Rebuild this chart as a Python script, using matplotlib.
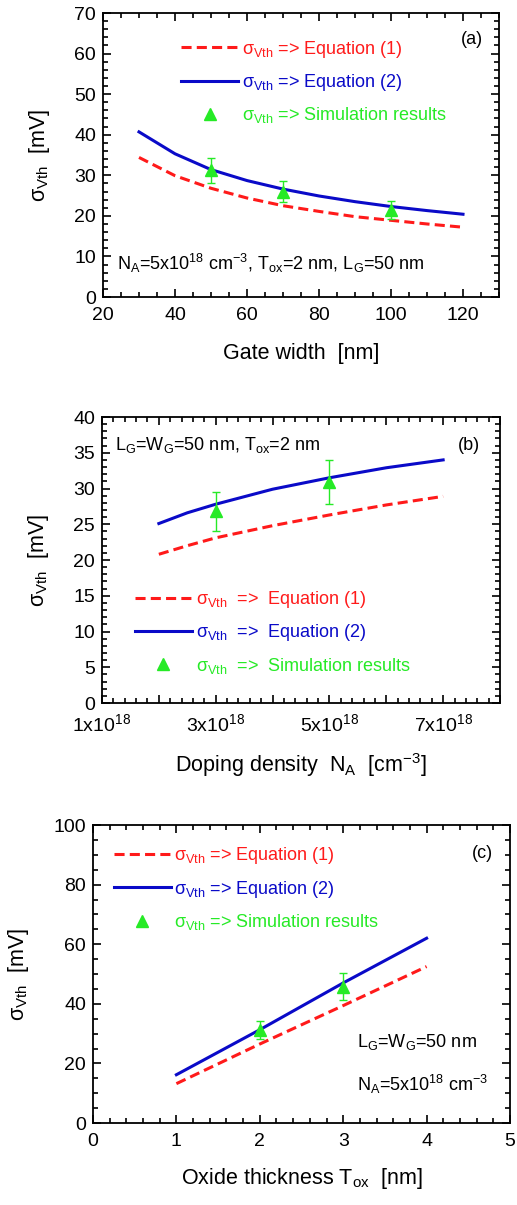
import matplotlib
matplotlib.use("Agg")
import matplotlib.pyplot as plt
from matplotlib.ticker import MultipleLocator, FixedLocator, FixedFormatter

plt.rcParams['font.family'] = ['Liberation Sans', 'DejaVu Sans']
plt.rcParams['mathtext.fontset'] = 'custom'
plt.rcParams['mathtext.rm'] = 'Liberation Sans'
plt.rcParams['mathtext.it'] = 'Liberation Sans:italic'
plt.rcParams['mathtext.bf'] = 'Liberation Sans:bold'
plt.rcParams['axes.unicode_minus'] = False

RED = '#ff1a1a'
BLUE = '#0a0ac8'
GREEN = '#26ea26'

# ---------------- data ----------------
# (a) gate width
wg = [30, 40, 50, 60, 70, 80, 90, 100, 110, 120]
a_eq1 = [34.4, 29.9, 26.8, 24.4, 22.5, 21.1, 19.8, 18.9, 18.0, 17.2]
a_eq2 = [40.7, 35.3, 31.4, 28.7, 26.6, 24.9, 23.5, 22.3, 21.3, 20.4]
a_sim_x = [50, 70, 100]
a_sim_y = [31.2, 26.0, 21.5]
a_sim_err = [3.0, 2.6, 2.2]

# (b) doping density (units of 1e18 cm^-3)
na = [2.0, 2.5, 3.0, 4.0, 5.0, 6.0, 7.0]
b_eq1 = [20.8, 22.0, 23.1, 24.8, 26.3, 27.7, 28.9]
b_eq2 = [25.1, 26.6, 27.8, 29.9, 31.5, 32.9, 34.0]
b_sim_x = [3.0, 5.0]
b_sim_y = [26.8, 30.9]
b_sim_err = [2.7, 3.05]

# (c) oxide thickness
tox = [1, 2, 3, 4]
c_eq1 = [13.2, 26.5, 39.4, 52.5]
c_eq2 = [16.2, 31.3, 47.0, 62.0]
c_sim_x = [2, 3]
c_sim_y = [31.1, 45.8]
c_sim_err = [3.0, 4.5]

b_tick_vals = [1, 2, 3, 4, 5, 6, 7, 8]
b_tick_labels = ['1x10$^{18}$', '', '3x10$^{18}$', '', '5x10$^{18}$', '',
                 '7x10$^{18}$', '']

SIG = 'σ$_{\\mathrm{Vth}}$'
TICK_FS = 14
LEG_FS = 13
ANN_FS = 13
LAB_FS = 15.5

fig = plt.figure(figsize=(5.17, 12.05), dpi=100)


def style_axes(ax):
    ax.tick_params(which='both', direction='in', top=True, right=True,
                   labelsize=TICK_FS, width=1.2)
    ax.tick_params(axis='x', which='both', pad=7)
    ax.tick_params(axis='y', which='both', pad=5)
    ax.tick_params(which='major', length=6)
    ax.tick_params(which='minor', length=3.5)
    for s in ax.spines.values():
        s.set_linewidth(1.3)


def draw(ax, x, e1, e2, sx, sy, se, sep):
    l1, = ax.plot(x, e1, color=RED, lw=2.2, dashes=(3.3, 1.7))
    l2, = ax.plot(x, e2, color=BLUE, lw=2.2)
    eb = ax.errorbar(sx, sy, yerr=se, fmt='^', color=GREEN, ms=8,
                     ecolor=GREEN, elinewidth=1, capsize=3, capthick=1)
    labels = [SIG + sep + 'Equation (1)', SIG + sep + 'Equation (2)',
              SIG + sep + 'Simulation results']
    return [l1, l2, eb[0]], labels


def add_legend(ax, h, lab, x, y):
    ax.legend(h, lab, loc='upper left', bbox_to_anchor=(x, y),
              frameon=False, fontsize=LEG_FS, handlelength=3.15,
              handletextpad=0.2, labelspacing=0.68,
              labelcolor=[RED, BLUE, GREEN], borderpad=0, borderaxespad=0)


# ---------- (a) ----------
axa = fig.add_axes([103/517, 1 - 297/1205, 396/517, 284/1205])
h, lab = draw(axa, wg, a_eq1, a_eq2, a_sim_x, a_sim_y, a_sim_err, ' => ')
axa.set_xlim(20, 130)
axa.set_ylim(0, 70)
axa.xaxis.set_major_locator(FixedLocator([20, 40, 60, 80, 100, 120]))
axa.xaxis.set_minor_locator(MultipleLocator(5))
axa.yaxis.set_major_locator(MultipleLocator(10))
axa.yaxis.set_minor_locator(MultipleLocator(2))
style_axes(axa)
axa.set_xlabel('Gate width  [nm]', fontsize=LAB_FS, labelpad=14)
axa.set_ylabel(SIG + '  [mV]', fontsize=LAB_FS, labelpad=16)
add_legend(axa, h, lab, 0.198, 0.91)
axa.text(0.96, 0.905, '(a)', transform=axa.transAxes, fontsize=ANN_FS,
         ha='right', va='center')
axa.text(0.035, 0.095, 'N$_{\\mathrm{A}}$=5x10$^{18}$ cm$^{-3}$, T$_{\\mathrm{ox}}$=2 nm, L$_{\\mathrm{G}}$=50 nm',
         transform=axa.transAxes, fontsize=ANN_FS, ha='left', va='baseline')

# ---------- (b) ----------
axb = fig.add_axes([102/517, 1 - 703/1205, 398/517, 286/1205])
h, lab = draw(axb, na, b_eq1, b_eq2, b_sim_x, b_sim_y, b_sim_err, '  =>  ')
axb.set_xlim(1, 8)
axb.set_ylim(0, 40)
axb.xaxis.set_major_locator(FixedLocator(b_tick_vals))
axb.xaxis.set_major_formatter(FixedFormatter(b_tick_labels))
axb.xaxis.set_minor_locator(MultipleLocator(0.2))
axb.yaxis.set_major_locator(MultipleLocator(5))
axb.yaxis.set_minor_locator(MultipleLocator(1))
style_axes(axb)
axb.set_xlabel('Doping density  N$_{\\mathrm{A}}$  [cm$^{-3}$]', fontsize=LAB_FS, labelpad=12)
axb.set_ylabel(SIG + '  [mV]', fontsize=LAB_FS, labelpad=16)
add_legend(axb, h, lab, 0.083, 0.398)
axb.text(0.95, 0.9, '(b)', transform=axb.transAxes, fontsize=ANN_FS,
         ha='right', va='center')
axb.text(0.033, 0.885, 'L$_{\\mathrm{G}}$=W$_{\\mathrm{G}}$=50 nm, T$_{\\mathrm{ox}}$=2 nm',
         transform=axb.transAxes, fontsize=ANN_FS, ha='left', va='baseline')

# ---------- (c) ----------
axc = fig.add_axes([93/517, 1 - 1123/1205, 417/517, 298/1205])
h, lab = draw(axc, tox, c_eq1, c_eq2, c_sim_x, c_sim_y, c_sim_err, ' => ')
axc.set_xlim(0, 5)
axc.set_ylim(0, 100)
axc.xaxis.set_major_locator(MultipleLocator(1))
axc.xaxis.set_minor_locator(MultipleLocator(0.2))
axc.yaxis.set_major_locator(MultipleLocator(20))
axc.yaxis.set_minor_locator(MultipleLocator(5))
style_axes(axc)
axc.set_xlabel('Oxide thickness T$_{\\mathrm{ox}}$  [nm]', fontsize=LAB_FS, labelpad=12)
axc.set_ylabel(SIG + '  [mV]', fontsize=LAB_FS, labelpad=16)
add_legend(axc, h, lab, 0.05, 0.932)
axc.text(0.96, 0.906, '(c)', transform=axc.transAxes, fontsize=ANN_FS,
         ha='right', va='center')
axc.text(0.633, 0.255, 'L$_{\\mathrm{G}}$=W$_{\\mathrm{G}}$=50 nm',
         transform=axc.transAxes, fontsize=ANN_FS, ha='left', va='baseline')
axc.text(0.633, 0.107, 'N$_{\\mathrm{A}}$=5x10$^{18}$ cm$^{-3}$',
         transform=axc.transAxes, fontsize=ANN_FS, ha='left', va='baseline')

fig.savefig('out.png', dpi=100)
